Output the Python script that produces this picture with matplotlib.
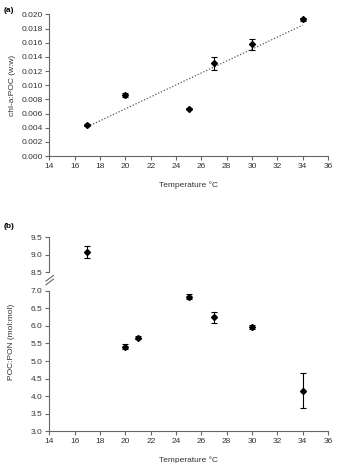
import numpy as np
from matplotlib import pyplot as plt

plt.rcParams['font.family'] = ['Liberation Sans', 'DejaVu Sans']
plt.rcParams['font.size'] = 6

# panel (a): chl-a:POC
temp_a = [17, 20, 25, 27, 30, 34]
chl_poc = [0.0044, 0.0086, 0.0067, 0.0131, 0.0158, 0.0193]
chl_err = [0.0001, 0.0003, 0.0001, 0.0009, 0.0008, 0.0002]

# panel (b): POC:PON
temp_b = [17, 20, 21, 25, 27, 30, 34]
poc_pon = [9.07, 5.41, 5.67, 6.84, 6.25, 5.97, 4.15]
pon_err = [0.17, 0.07, 0.03, 0.08, 0.16, 0.07, 0.50]

xticks = np.arange(14, 37, 2)
axcol = '#666666'
txtcol = '#333333'


def style(ax, bottom=True):
    for s in ['top', 'right']:
        ax.spines[s].set_visible(False)
    ax.spines['left'].set_color(axcol)
    ax.spines['bottom'].set_color(axcol)
    ax.spines['bottom'].set_visible(bottom)
    ax.tick_params(colors=axcol, labelcolor=txtcol, length=3, width=0.8, direction='out', pad=2)
    ax.set_xlim(14, 36)
    ax.set_xticks(xticks)


def points(ax, x, y, e):
    ax.errorbar(x, y, yerr=e, fmt='D', color='black', ms=3, elinewidth=0.8,
                capsize=2.5, capthick=0.8, zorder=3)


fig = plt.figure(figsize=(3.38, 4.63), dpi=100)

# (a)
ax1 = fig.add_axes([0.1464, 0.663, 0.824, 0.3057])
style(ax1)
points(ax1, temp_a, chl_poc, chl_err)
k, b = np.polyfit(temp_a, chl_poc, 1)
xf = np.array([min(temp_a), max(temp_a)])
ax1.plot(xf, k * xf + b, ls=(0, (1, 1.5)), color='#555555', lw=0.9)
ax1.set_ylim(0, 0.020)
ax1.set_yticks(np.arange(0, 0.0201, 0.002))
ax1.yaxis.set_major_formatter(plt.FormatStrFormatter('%.3f'))
ax1.set_xlabel('Temperature °C', color=txtcol, labelpad=8)
ax1.set_ylabel('chl-a:POC (w:w)', color=txtcol, labelpad=4)
fig.text(0.012, 0.985, '(a)', fontsize=6, fontweight='bold', va='top')

# (b) upper part
ax2 = fig.add_axes([0.1464, 0.4119, 0.824, 0.0762])
style(ax2, bottom=False)
points(ax2, temp_b, poc_pon, pon_err)
ax2.set_ylim(8.5, 9.5)
ax2.set_yticks([8.5, 9.0, 9.5])
ax2.yaxis.set_major_formatter(plt.FormatStrFormatter('%.1f'))
ax2.tick_params(axis='x', bottom=False, labelbottom=False)

# (b) lower part
ax3 = fig.add_axes([0.1464, 0.0691, 0.824, 0.3024])
style(ax3)
points(ax3, temp_b, poc_pon, pon_err)
ax3.set_ylim(3.0, 7.0)
ax3.set_yticks(np.arange(3.0, 7.01, 0.5))
ax3.yaxis.set_major_formatter(plt.FormatStrFormatter('%.1f'))
ax3.set_xlabel('Temperature °C', color=txtcol, labelpad=8)
fig.text(0.035, 0.261, 'POC:PON (mol:mol)', rotation=90, color=txtcol,
         ha='center', va='center')
fig.text(0.012, 0.518, '(b)', fontsize=6, fontweight='bold', va='top')

# axis break marks
for dy in [0.0, 0.008]:
    fig.add_artist(plt.Line2D([0.136, 0.158], [0.385 + dy, 0.397 + dy],
                              color=axcol, lw=0.8))

fig.savefig('out.png', dpi=100)
